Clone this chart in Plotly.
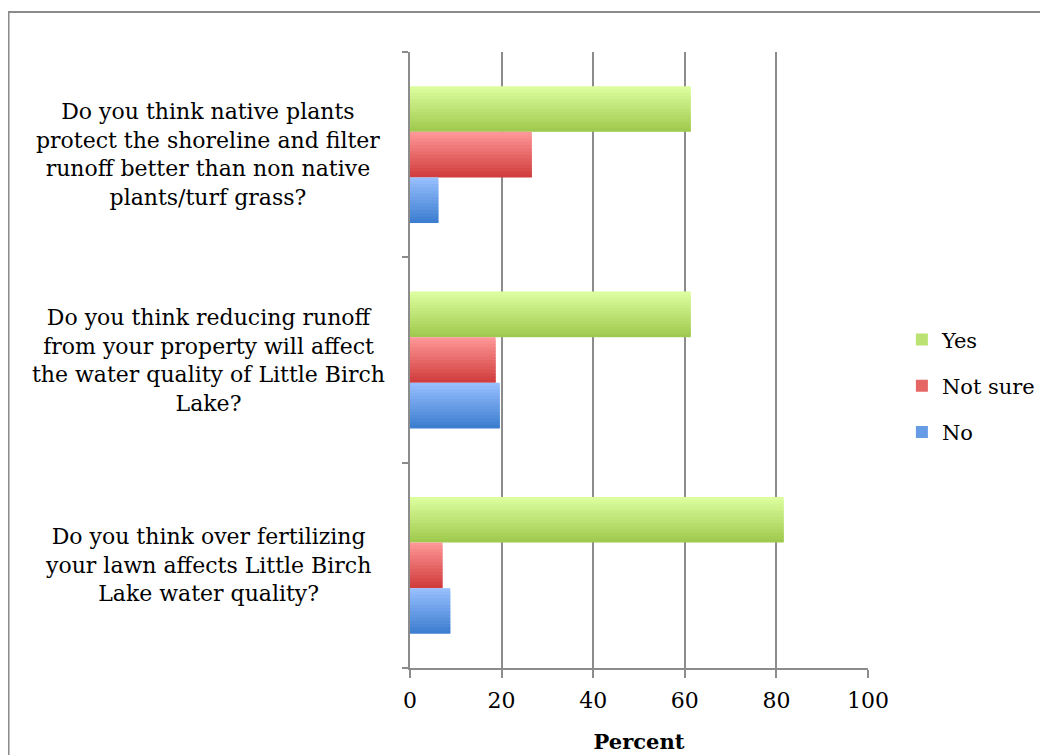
import plotly.graph_objects as go

categories = [
    "Do you think over fertilizing<br>your lawn affects Little Birch<br>Lake water quality?",
    "Do you think reducing runoff<br>from your property will affect<br>the water quality of Little Birch<br>Lake?",
    "Do you think native plants<br>protect the shoreline and filter<br>runoff better than non native<br>plants/turf grass?",
]
series_names = ["Yes", "Not sure", "No"]
yes_vals = [81.6, 61.3, 61.3]
notsure_vals = [7.1, 18.7, 26.6]
no_vals = [8.8, 19.6, 6.2]
x_ticks = [0, 20, 40, 60, 80, 100]

values = [yes_vals, notsure_vals, no_vals]
# gradient colors (top, bottom)
grads = [((222, 255, 160), (158, 200, 76)),
         ((255, 153, 153), (208, 58, 58)),
         ((153, 192, 255), (58, 124, 206))]

FONT = "DejaVu Serif"
bar_w = 0.222
n_slices = 14
fig = go.Figure()
for si, (name, vals, (ctop, cbot)) in enumerate(zip(series_names, values, grads)):
    top_edge = 0.333 - si * bar_w
    sw = bar_w / n_slices
    for k in range(n_slices):
        t = (k + 0.5) / n_slices
        col = tuple(int(round(ctop[j] + (cbot[j] - ctop[j]) * t)) for j in range(3))
        extra = 0.8 * sw if k < n_slices - 1 else 0.0
        fig.add_trace(go.Bar(
            x=vals, y=categories, orientation="h",
            width=sw + extra, offset=top_edge - (k + 1) * sw - extra,
            marker=dict(color="rgb(%d,%d,%d)" % col, line=dict(width=0)),
            name=name, legendgroup=name,
            showlegend=(k == n_slices // 2),
            hoverinfo="x+name",
        ))

for cat in categories:
    fig.add_annotation(text=cat, xref="paper", yref="y", x=-0.441, y=cat,
                       xanchor="center", yanchor="middle", align="center",
                       showarrow=False, font=dict(family=FONT, size=22, color="black"))

# outer frame (page has an 8px body margin, figure is offset by it)
fig.add_shape(type="rect", xref="paper", yref="paper", x0=-0.8766, x1=2.0, y0=-1.0, y1=1.065,
              line=dict(color="#8a8a8a", width=2), fillcolor="rgba(0,0,0,0)", layer="below")

fig.update_layout(
    width=1040, height=747,
    margin=dict(l=402, r=180, t=44, b=87, autoexpand=False),
    paper_bgcolor="white", plot_bgcolor="white",
    barmode="overlay",
    font=dict(family=FONT, size=22, color="black"),
    xaxis=dict(range=[0, 100], tickvals=x_ticks, showgrid=True, gridcolor="#8c8c8c", gridwidth=2,
               showline=True, linecolor="#8c8c8c", linewidth=2, ticks="outside", tickcolor="#8c8c8c",
               ticklen=8, tickwidth=2, zeroline=False, ticklabelstandoff=4,
               tickfont=dict(family=FONT, size=22, color="black"),
               title=dict(text="<b>Percent</b>", font=dict(family=FONT, size=21, color="black"), standoff=22)),
    yaxis=dict(range=[-0.5, 2.5], showticklabels=False, tickson="boundaries", ticks="outside",
               ticklen=6, tickwidth=2, tickcolor="#8c8c8c", showline=True, linecolor="#8c8c8c",
               linewidth=2, showgrid=False, zeroline=False),
    legend=dict(x=1.074, y=0.458, yanchor="middle", xanchor="left",
                traceorder="grouped", tracegroupgap=16, font=dict(family=FONT, size=21, color="black"),
                bgcolor="rgba(0,0,0,0)", itemwidth=30),
)

fig.write_html("out.html")
